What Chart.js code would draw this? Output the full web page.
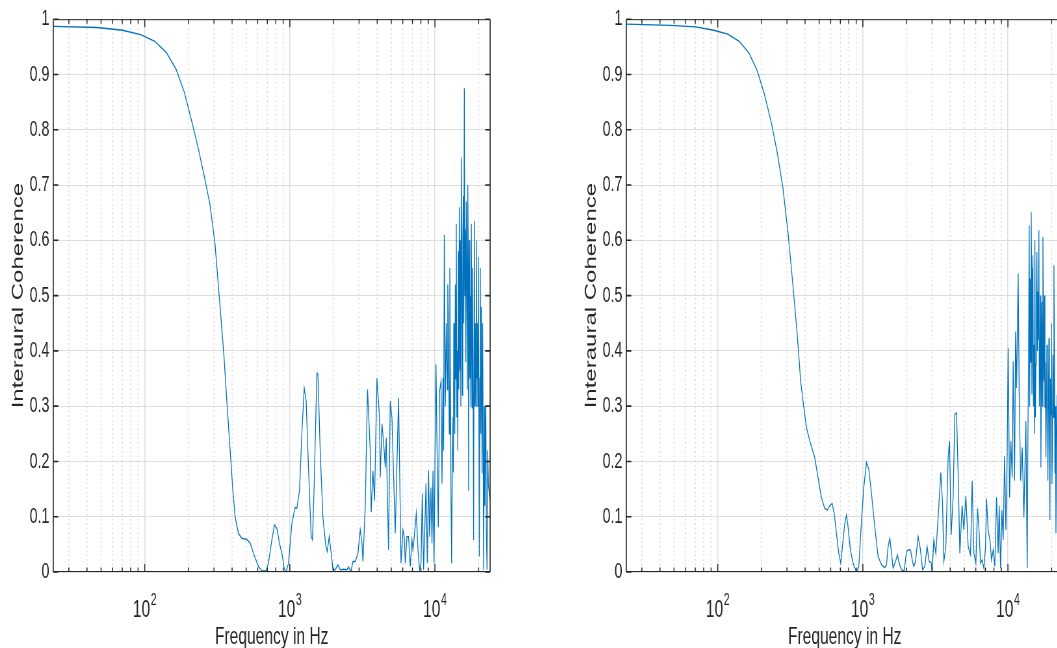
<!DOCTYPE html>
<html>
<head>
<meta charset="utf-8">
<title>Interaural Coherence</title>
<script src="https://cdn.jsdelivr.net/npm/chart.js@4.4.1/dist/chart.umd.min.js"></script>
<style>
  html, body { margin: 0; padding: 0; background: #fff; }
  body { width: 1057px; height: 648px; overflow: hidden; position: relative; }
  /* the figure is squeezed horizontally, so draw wide and scale down */
  .panel { position: absolute; top: 0; width: 800px; height: 648px; transform: scaleX(0.65); transform-origin: 0 0; }
</style>
</head>
<body>
<div class="panel" style="left:0px"><canvas id="leftChart" width="800" height="648"></canvas></div>
<div class="panel" style="left:573.4px"><canvas id="rightChart" width="800" height="648"></canvas></div>
<script>
// === Data ===
const xRange = [23.4375, 24000];
const xDecades = [100, 1000, 10000];
const yTicks = [0, 0.1, 0.2, 0.3, 0.4, 0.5, 0.6, 0.7, 0.8, 0.9, 1];

const leftFreq = [
  23.44, 46.88, 70.31, 93.75, 117.2, 140.6, 164.1, 187.5, 210.9, 234.4,
  257.8, 281.3, 304.7, 328.1, 351.6, 368, 388, 405, 420, 442,
  467, 506, 533, 561, 608, 641, 687, 712, 752, 784,
  814, 848, 881, 914, 944, 979, 1033, 1088, 1118, 1165,
  1210, 1256, 1296, 1344, 1403, 1432, 1472, 1536, 1561, 1619,
  1690, 1772, 1809, 1868, 1928, 1981, 2054, 2144, 2224, 2344,
  2473, 2538, 2637, 2721, 2823, 2946, 3057, 3141, 3190, 3308,
  3431, 3582, 3638, 3738, 3835, 3983, 4151, 4198, 4312, 4423,
  4544, 4617, 4713, 4789, 4919, 5055, 5185, 5327, 5472, 5613,
  5704, 5833, 6021, 6145, 6244, 6415, 6581, 6760, 6944, 7055,
  7204, 7437, 7641, 7836, 8013, 8181, 8350, 8483, 8675, 8855,
  9040, 9184, 9390, 9541, 9694, 9849, 10006, 10166, 10328, 10544,
  10764, 11006, 11182, 11361, 11480, 11599, 11785, 11974, 12165, 12260,
  12360, 12558, 12660, 12760, 12900, 13030, 13172, 13320, 13400, 13490,
  13597, 13700, 13815, 13920, 14036, 14150, 14261, 14380, 14489, 14600,
  14721, 14840, 14957, 15080, 15196, 15320, 15440, 15560, 15687, 15810,
  15938, 16066, 16194, 16320, 16453, 16580, 16717, 16850, 16984, 17065,
  17160, 17256, 17400, 17533, 17670, 17813, 18010, 18099, 18250, 18475,
  18683, 18830, 18982, 19130, 19286, 19500, 19595, 19750, 19908, 20060,
  20227, 20390, 20551, 20710, 20880, 21040, 21115, 21316, 21480, 21662,
  21899, 22060, 22250, 22430, 22606, 22860, 23100, 23336, 23800, 24000,
];
const leftCoh = [
  0.987, 0.985, 0.98, 0.972, 0.96, 0.94, 0.91, 0.868, 0.815, 0.765,
  0.715, 0.665, 0.595, 0.49, 0.39, 0.309, 0.219, 0.147, 0.099, 0.07,
  0.061, 0.059, 0.052, 0.034, 0.01, 0.002, 0.002, 0.016, 0.058, 0.085,
  0.079, 0.052, 0.034, 0.007, 0.0, 0.016, 0.088, 0.117, 0.115, 0.147,
  0.25, 0.333, 0.309, 0.189, 0.064, 0.058, 0.16, 0.36, 0.358, 0.219,
  0.099, 0.046, 0.037, 0.064, 0.034, 0.004, 0.004, 0.013, 0.004, 0.005,
  0.004, 0.009, 0.001, 0.019, 0.019, 0.034, 0.076, 0.052, 0.019, 0.117,
  0.33, 0.219, 0.108, 0.183, 0.129, 0.351, 0.279, 0.171, 0.268, 0.237,
  0.189, 0.243, 0.129, 0.04, 0.309, 0.279, 0.178, 0.07, 0.196, 0.315,
  0.196, 0.016, 0.076, 0.064, 0.016, 0.064, 0.064, 0.01, 0.058, 0.04,
  0.064, 0.106, 0.04, 0.004, 0.016, 0.142, 0.004, 0.064, 0.16, 0.016,
  0.183, 0.064, 0.153, 0.052, 0.183, 0.016, 0.196, 0.376, 0.232, 0.081,
  0.327, 0.345, 0.16, 0.351, 0.22, 0.61, 0.3, 0.45, 0.33, 0.52,
  0.47, 0.25, 0.55, 0.38, 0.147, 0.016, 0.2, 0.28, 0.18, 0.45,
  0.37, 0.25, 0.52, 0.35, 0.63, 0.28, 0.4, 0.22, 0.58, 0.33,
  0.66, 0.364, 0.6, 0.3, 0.75, 0.55, 0.32, 0.6, 0.68, 0.45,
  0.875, 0.5, 0.62, 0.38, 0.67, 0.55, 0.33, 0.7, 0.56, 0.147,
  0.45, 0.6, 0.35, 0.5, 0.3, 0.63, 0.297, 0.55, 0.42, 0.058,
  0.635, 0.3, 0.45, 0.3, 0.6, 0.35, 0.45, 0.3, 0.57, 0.35,
  0.028, 0.35, 0.55, 0.25, 0.48, 0.3, 0.178, 0.45, 0.25, 0.004,
  0.3, 0.12, 0.232, 0.3, 0.076, 0.004, 0.22, 0.16, 0.135, 0.13,
];

const rightFreq = [
  23.44, 46.88, 70.31, 93.75, 117.2, 140.6, 164.1, 187.5, 210.9, 234.4,
  257.8, 281.3, 304.7, 328.1, 351.6, 373, 387, 409, 431, 466,
  491, 518, 546, 570, 592, 614, 633, 658, 682, 704,
  731, 751, 771, 791, 821, 856, 904, 938, 979, 1015,
  1060, 1099, 1147, 1209, 1274, 1345, 1417, 1455, 1493, 1534,
  1576, 1616, 1679, 1734, 1778, 1847, 1925, 2000, 2051, 2131,
  2199, 2245, 2307, 2404, 2497, 2578, 2674, 2773, 2863, 2955,
  3003, 3085, 3184, 3303, 3447, 3542, 3616, 3733, 3871, 3958,
  4060, 4191, 4305, 4424, 4537, 4661, 4834, 4967, 5128, 5319,
  5525, 5667, 5823, 6011, 6175, 6304, 6476, 6642, 6823, 7011,
  7123, 7306, 7505, 7710, 7910, 8126, 8348, 8564, 8702, 8897,
  9083, 9271, 9480, 9679, 9879, 10037, 10264, 10476, 10696, 10867,
  11112, 11290, 11471, 11766, 11955, 12222, 12538, 12881, 13297, 13575,
  13730, 13878, 14013, 14120, 14235, 14350, 14463, 14550, 14627, 14740,
  14859, 14980, 15098, 15220, 15339, 15460, 15585, 15710, 15834, 15960,
  16088, 16210, 16342, 16470, 16604, 16740, 16870, 17010, 17140, 17280,
  17415, 17550, 17694, 17830, 17977, 18110, 18266, 18410, 18558, 18700,
  18856, 19000, 19158, 19310, 19465, 19620, 19777, 19930, 20094, 20250,
  20416, 20580, 20743, 20910, 21076, 21240, 21413, 21800, 22300, 22900,
  23500, 24000,
];
const rightCoh = [
  0.991, 0.989, 0.986, 0.98, 0.973, 0.96, 0.939, 0.906, 0.862, 0.812,
  0.757, 0.695, 0.615, 0.525, 0.435, 0.345, 0.309, 0.261, 0.237, 0.207,
  0.171, 0.135, 0.115, 0.112, 0.12, 0.124, 0.108, 0.07, 0.034, 0.016,
  0.058, 0.088, 0.103, 0.081, 0.04, 0.016, 0.0, 0.01, 0.094, 0.153,
  0.198, 0.186, 0.142, 0.081, 0.028, 0.013, 0.008, 0.013, 0.046, 0.061,
  0.034, 0.007, 0.019, 0.031, 0.016, 0.004, 0.002, 0.037, 0.04, 0.04,
  0.019, 0.01, 0.019, 0.064, 0.04, 0.004, 0.01, 0.046, 0.019, 0.017,
  0.0, 0.058, 0.034, 0.099, 0.18, 0.124, 0.019, 0.046, 0.207, 0.237,
  0.067, 0.135, 0.285, 0.288, 0.178, 0.034, 0.12, 0.076, 0.138, 0.046,
  0.031, 0.165, 0.034, 0.016, 0.115, 0.081, 0.016, 0.022, 0.007, 0.046,
  0.133, 0.076, 0.058, 0.022, 0.04, 0.01, 0.135, 0.034, 0.12, 0.007,
  0.112, 0.058, 0.21, 0.076, 0.219, 0.405, 0.135, 0.237, 0.171, 0.381,
  0.165, 0.435, 0.333, 0.54, 0.321, 0.165, 0.225, 0.099, 0.273, 0.007,
  0.25, 0.384, 0.627, 0.3, 0.531, 0.38, 0.651, 0.55, 0.321, 0.45,
  0.573, 0.3, 0.411, 0.25, 0.6, 0.28, 0.375, 0.5, 0.579, 0.4,
  0.507, 0.42, 0.618, 0.3, 0.363, 0.5, 0.189, 0.35, 0.489, 0.3,
  0.606, 0.45, 0.345, 0.5, 0.297, 0.38, 0.207, 0.3, 0.411, 0.35,
  0.165, 0.3, 0.423, 0.25, 0.094, 0.35, 0.285, 0.45, 0.159, 0.22,
  0.393, 0.28, 0.555, 0.4, 0.178, 0.3, 0.07, 0.32, 0.12, 0.25,
  0.08, 0.15,
];

// === Look ===
const SQUEEZE = 0.65; // must match the css scaleX
const FONT = "'Liberation Sans', Arial, Helvetica, sans-serif";
const axisColor = "#262626";
const gridColor = "#dedede";
const lineColor = "#0072BD";

// minor decade positions (2..9 x 10^n) inside the x range
const minorTicks = [];
for (let e = 1; e <= 4; e++) {
  for (let m = 2; m <= 9; m++) {
    const v = m * Math.pow(10, e);
    if (v > xRange[0] && v < xRange[1]) minorTicks.push(v);
  }
}

// MATLAB style box, inward ticks, dotted minor grid and 10^n labels
const matlabAxes = {
  id: "matlabAxes",
  beforeDatasetsDraw(chart) {
    const { ctx, chartArea: a } = chart;
    const x = chart.scales.x;
    ctx.save();
    ctx.strokeStyle = "#d2d2d2";
    ctx.lineWidth = 1.5;
    ctx.setLineDash([1.5, 3]);
    minorTicks.forEach((f) => {
      const px = x.getPixelForValue(f);
      ctx.beginPath();
      ctx.moveTo(px, a.top);
      ctx.lineTo(px, a.bottom);
      ctx.stroke();
    });
    ctx.restore();
  },
  afterDatasetsDraw(chart) {
    const { ctx, chartArea: a } = chart;
    const x = chart.scales.x;
    const y = chart.scales.y;
    ctx.save();
    ctx.strokeStyle = axisColor;
    ctx.setLineDash([]);

    // box
    ctx.lineWidth = 1;
    ctx.beginPath();
    ctx.moveTo(a.left, a.top + 0.5);
    ctx.lineTo(a.right, a.top + 0.5);
    ctx.moveTo(a.left, a.bottom - 0.5);
    ctx.lineTo(a.right, a.bottom - 0.5);
    ctx.stroke();
    ctx.lineWidth = 1.6;
    ctx.beginPath();
    ctx.moveTo(a.left, a.top);
    ctx.lineTo(a.left, a.bottom);
    ctx.moveTo(a.right, a.top);
    ctx.lineTo(a.right, a.bottom);
    ctx.stroke();

    // y ticks, left and right, pointing in
    const yLen = 5 / SQUEEZE;
    yTicks.forEach((v) => {
      const py = y.getPixelForValue(v);
      ctx.beginPath();
      ctx.moveTo(a.left, py);
      ctx.lineTo(a.left + yLen, py);
      ctx.moveTo(a.right, py);
      ctx.lineTo(a.right - yLen, py);
      ctx.stroke();
    });

    // x ticks, top and bottom
    const drawXTick = (f, len) => {
      const px = x.getPixelForValue(f);
      ctx.beginPath();
      ctx.moveTo(px, a.bottom);
      ctx.lineTo(px, a.bottom - len);
      ctx.moveTo(px, a.top);
      ctx.lineTo(px, a.top + len);
      ctx.stroke();
    };
    ctx.lineWidth = 1.5;
    minorTicks.forEach((f) => drawXTick(f, 4.5));
    xDecades.forEach((f) => drawXTick(f, 8));

    // 10^n labels
    ctx.fillStyle = axisColor;
    ctx.textBaseline = "alphabetic";
    ctx.textAlign = "left";
    xDecades.forEach((f) => {
      const px = x.getPixelForValue(f);
      const exp = String(Math.round(Math.log10(f)));
      ctx.font = `24px ${FONT}`;
      const wBase = ctx.measureText("10").width;
      ctx.font = `16px ${FONT}`;
      const wExp = ctx.measureText(exp).width;
      const start = px - (wBase + wExp + 1) / 2;
      ctx.font = `24px ${FONT}`;
      ctx.fillText("10", start, a.bottom + 45);
      ctx.font = `16px ${FONT}`;
      ctx.fillText(exp, start + wBase + 1, a.bottom + 33);
    });
    ctx.restore();
  },
};

function makeChart(id, freq, coh) {
  const canvas = document.getElementById(id);
  if (!canvas) return null;
  return new Chart(canvas, {
    type: "line",
    data: {
      datasets: [
        {
          data: freq.map((f, i) => ({ x: f, y: coh[i] })),
          borderColor: lineColor,
          borderWidth: 1.3,
          pointRadius: 0,
          tension: 0,
          fill: false,
        },
      ],
    },
    options: {
      responsive: false,
      animation: false,
      devicePixelRatio: 1,
      layout: { padding: { left: 0, right: 46, top: 16, bottom: 0 } },
      plugins: { legend: { display: false }, tooltip: { enabled: false } },
      scales: {
        x: {
          type: "logarithmic",
          min: xRange[0],
          max: xRange[1],
          afterBuildTicks: (scale) => {
            scale.ticks = xDecades.map((v) => ({ value: v }));
          },
          afterFit: (scale) => {
            scale.height = 76;
          },
          ticks: { display: false },
          grid: { color: gridColor, lineWidth: 1.5, drawTicks: false },
          border: { display: false },
          title: {
            display: true,
            text: "Frequency in Hz",
            color: axisColor,
            font: { family: FONT, size: 24, lineHeight: 0.9 },
            padding: 0,
          },
        },
        y: {
          type: "linear",
          min: 0,
          max: 1,
          afterFit: (scale) => {
            scale.width = 82;
          },
          ticks: {
            stepSize: 0.1,
            padding: 6,
            color: axisColor,
            font: { family: FONT, size: 22 },
            callback: (v) => String(+v.toFixed(1)),
          },
          grid: { color: gridColor, lineWidth: 1, drawTicks: false },
          border: { display: false },
          title: {
            display: true,
            text: "Interaural Coherence",
            color: axisColor,
            font: { family: FONT, size: 24 },
            padding: { top: 14, bottom: 0 },
          },
        },
      },
    },
    plugins: [matlabAxes],
  });
}

makeChart("leftChart", leftFreq, leftCoh);
makeChart("rightChart", rightFreq, rightCoh);
</script>
</body>
</html>
